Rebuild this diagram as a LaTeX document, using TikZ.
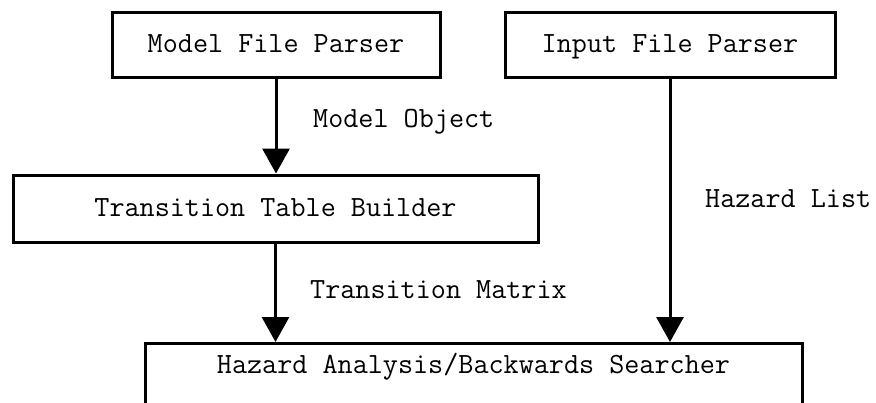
\documentclass[tikz,border=0pt]{standalone}
\usetikzlibrary{arrows.meta}
\begin{document}
\begin{tikzpicture}[x=1pt,y=-1pt,
  font=\ttfamily\fontsize{29.3}{34}\selectfont,
  box/.style={draw, line width=3pt, inner sep=0pt, text height=15pt, text depth=0pt},
  flow/.style={line width=3pt, -{Triangle[width=27pt,length=25pt]}},
  lbl/.style={inner sep=0pt, anchor=base west}]
  \clip (0,0) rectangle (876,402);
  \fill[white] (0,0) rectangle (876,402);

  % processing stages
  \node[box, minimum width=328pt, minimum height=65pt] (mfp) at (276,44.5) {Model File Parser};
  \node[box, minimum width=330pt, minimum height=65pt] (ifp) at (670,44.5) {Input File Parser};
  \node[box, minimum width=525pt, minimum height=67pt] (ttb) at (275.5,208.5) {Transition Table Builder};
  \node[box, anchor=north, minimum width=657pt, inner ysep=15pt, text depth=60pt] (has) at (473.5,342) {Hazard Analysis/Backwards Searcher};

  % data flow between stages
  \draw[flow] (mfp.south) -- (mfp.south |- ttb.north);
  \draw[flow] (ttb.south) -- (ttb.south |- has.north);
  \draw[flow] (ifp.south) -- (ifp.south |- has.north);

  % data passed along each flow
  \node[lbl] (mo) at (313,127) {Model Object};
  \node[lbl] (hl) at (705,207.5) {Hazard List};
  \node[lbl] (tm) at (310,298) {Transition Matrix};
\end{tikzpicture}
\end{document}
